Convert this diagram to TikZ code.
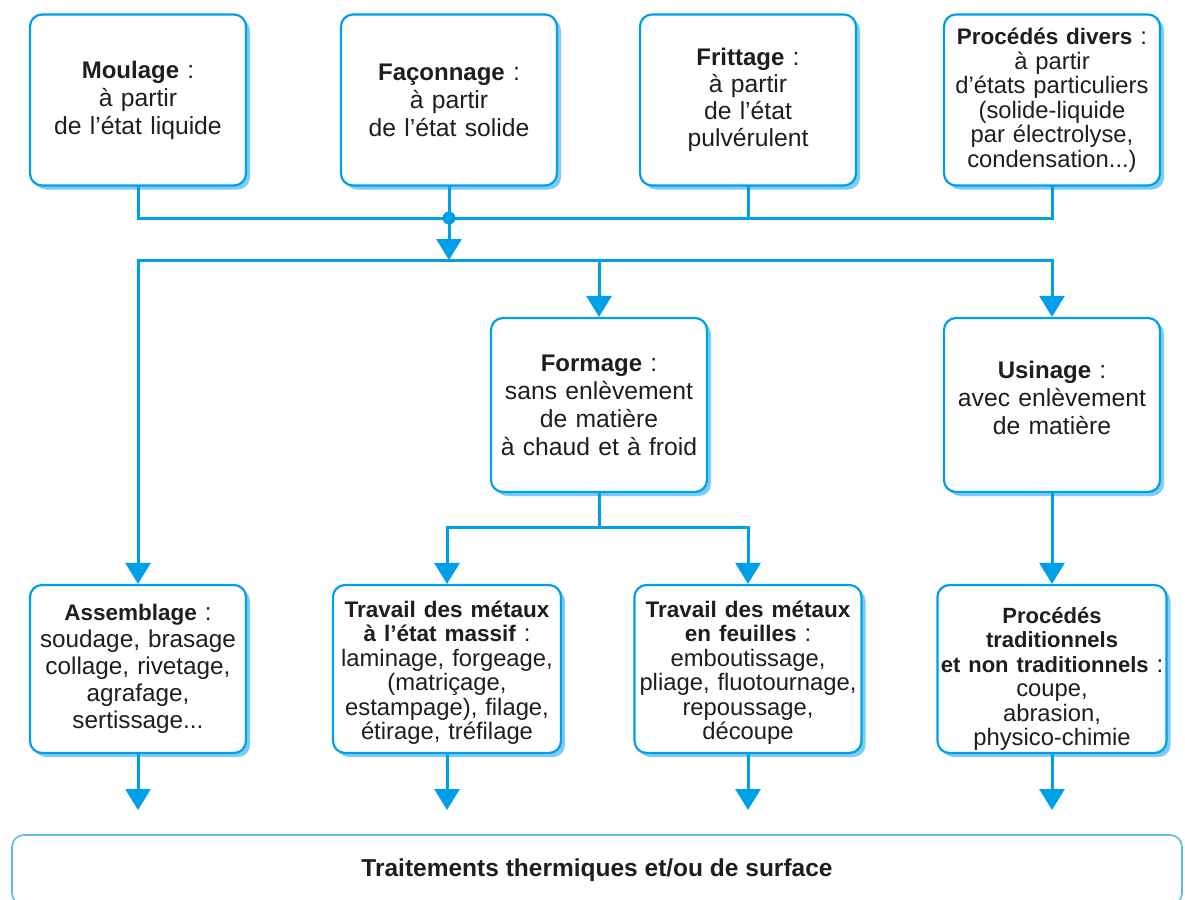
\documentclass[tikz,border=0pt]{standalone}
\usepackage{fontspec}
\setmainfont{Liberation Sans}
\usetikzlibrary{arrows.meta,shadows}
\definecolor{mblue}{RGB}{0,160,233}
\definecolor{sblue}{RGB}{125,205,242}
\definecolor{lblue}{RGB}{95,185,232}
\definecolor{txt}{RGB}{30,30,30}
\newcommand\hd[1]{{\fontsize{22.5}{24}\selectfont\bfseries #1}}
\newcommand\hdl[1]{{\fontsize{24}{24}\selectfont\bfseries #1}}
\newcommand\hds[1]{{\fontsize{22}{24}\selectfont\bfseries #1}}
\begin{document}
\begin{tikzpicture}[x=1pt,y=-1pt,
 box/.style={draw=mblue,line width=2.2pt,rounded corners=12pt,fill=white,align=center,inner sep=0pt,text=txt,
   drop shadow={shadow xshift=4pt,shadow yshift=-4pt,fill=sblue,opacity=1}},
 top/.style={box,minimum width=216pt,text width=212pt,minimum height=171pt},
 mid/.style={box,minimum width=216pt,text width=212pt,minimum height=174pt},
 bot/.style={box,minimum width=#1,text width=#1-4pt,minimum height=168pt},
 loose/.style={font=\fontsize{24.7}{28}\selectfont},
 tight/.style={font=\fontsize{23.8}{24.5}\selectfont},
 conn/.style={draw=mblue,line width=3pt,line cap=rect},
 arr/.style={conn,-{Triangle[width=25pt,length=21pt]}},
]
\path[use as bounding box] (0,0) rectangle (1185,899);
\clip (0,0) rectangle (1185,899);

% top row
\node[top,loose] (moulage) at (138,100) {\hdl{Moulage} :\\à partir\\de l'état liquide};
\node[top,loose] (faconnage) at (449,100) {\hdl{Façonnage} :\\à partir\\de l'état solide};
\node[top,font=\fontsize{24.7}{27}\selectfont] (frittage) at (748,100) {\hdl{Frittage} :\\à partir\\de l'état\\pulvérulent};
\node[top,tight] (divers) at (1052,100) {\hd{Procédés divers} :\\à partir\\d'états particuliers\\(solide-liquide\\par électrolyse,\\condensation...)};

% middle row
\node[mid,loose] (formage) at (599,405) {\hdl{Formage} :\\sans enlèvement\\de matière\\à chaud et à froid};
\node[mid,loose] (usinage) at (1052,405) {\hdl{Usinage} :\\avec enlèvement\\de matière\rule[-15pt]{0pt}{15pt}};

% bottom row
\node[bot=216pt,font=\fontsize{24.3}{27}\selectfont] (assemblage) at (138,669) {\hd{Assemblage} :\\soudage, brasage\\collage, rivetage,\\agrafage,\\sertissage...};
\node[bot=228pt,tight] (massif) at (447,669) {\rule{0pt}{24pt}\hd{Travail des métaux}\\\hd{à l'état massif} :\\laminage, forgeage,\\(matriçage,\\estampage), filage,\\étirage, tréfilage};
\node[bot=227pt,tight] (feuilles) at (748,669) {\rule{0pt}{24pt}\hd{Travail des métaux}\\\hd{en feuilles} :\\emboutissage,\\pliage, fluotournage,\\repoussage,\\découpe};
\node[bot=229pt,tight] (trad) at (1052,669) {\rule{0pt}{36pt}\hds{Procédés}\\\hds{traditionnels}\\\mbox{\hds{et non traditionnels} :}\\coupe,\\abrasion,\\physico-chimie};

% final box
\node[draw=lblue,line width=1.6pt,rounded corners=12pt,minimum width=1170pt,minimum height=70pt,inner sep=0pt,text=txt,
  font=\fontsize{24.5}{26}\selectfont\bfseries] (traitements) at (597,870) {Traitements thermiques et/ou de surface};

% coordinates
\coordinate (b1) at (449,218);
\coordinate (b2) at (0,260);
\coordinate (b3) at (0,527);
\coordinate (tip) at (0,810);

% bus 1
\draw[conn] (moulage.south) -- (moulage.south |- b1) -- (divers.south |- b1) -- (divers.south);
\draw[conn] (faconnage.south) -- (faconnage.south |- b1);
\draw[conn] (frittage.south) -- (frittage.south |- b1);
\fill[mblue] (b1) circle (6.5pt);
\draw[arr] (b1) -- (b1 |- b2);

% bus 2
\draw[arr] (usinage.north |- b2) -- (assemblage.north |- b2) -- (assemblage.north);
\draw[arr] (formage.north |- b2) -- (formage.north);
\draw[arr] (usinage.north |- b2) -- (usinage.north);

% formage split
\draw[conn] (formage.south) -- (formage.south |- b3);
\draw[arr] (feuilles.north |- b3) -- (massif.north |- b3) -- (massif.north);
\draw[arr] (feuilles.north |- b3) -- (feuilles.north);

% usinage
\draw[arr] (usinage.south) -- (trad.north);

% outputs
\draw[arr] (assemblage.south) -- (assemblage.south |- tip);
\draw[arr] (massif.south) -- (massif.south |- tip);
\draw[arr] (feuilles.south) -- (feuilles.south |- tip);
\draw[arr] (trad.south) -- (trad.south |- tip);
\end{tikzpicture}
\end{document}
